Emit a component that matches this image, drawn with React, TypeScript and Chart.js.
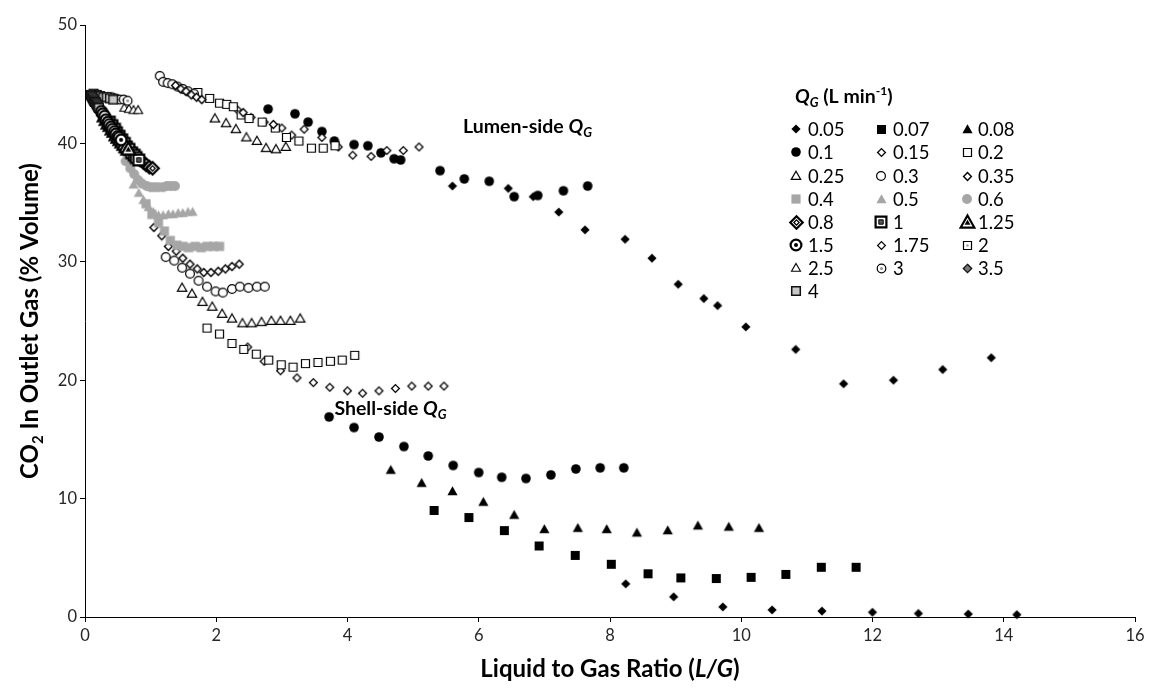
import React, { useEffect, useRef } from 'react';
import { Chart, registerables } from 'chart.js';

Chart.register(...registerables);

// ---------------- DATA ----------------
// Liquid-to-gas ratio (x) and CO2 in outlet gas, % volume (y), per gas flow Q_G (L/min).
// Each series holds lumen-side points first, then shell-side points.
const Q005_X = [5.6, 6.45, 6.83, 7.22, 7.62, 8.23, 8.64, 9.04, 9.43, 9.64, 10.07, 10.83, 11.56, 12.32, 13.07, 13.81, 8.24, 8.97, 9.72, 10.47, 11.23, 12.0, 12.7, 13.46, 14.2];
const Q005_Y = [36.4, 36.2, 35.5, 34.2, 32.7, 31.9, 30.3, 28.1, 26.9, 26.3, 24.5, 22.6, 19.7, 20.0, 20.9, 21.9, 2.8, 1.7, 0.85, 0.6, 0.5, 0.4, 0.3, 0.25, 0.2];

const Q007_X = [5.32, 5.85, 6.39, 6.92, 7.47, 8.02, 8.58, 9.08, 9.62, 10.15, 10.68, 11.22, 11.75];
const Q007_Y = [9.0, 8.4, 7.3, 6.0, 5.2, 4.45, 3.65, 3.3, 3.25, 3.35, 3.6, 4.2, 4.2];

const Q008_X = [4.66, 5.13, 5.6, 6.07, 6.54, 7.0, 7.51, 7.95, 8.41, 8.88, 9.34, 9.81, 10.27];
const Q008_Y = [12.4, 11.3, 10.6, 9.7, 8.6, 7.4, 7.5, 7.4, 7.1, 7.3, 7.7, 7.6, 7.5];

const Q01_X = [2.79, 3.2, 3.4, 3.61, 3.8, 4.1, 4.31, 4.51, 4.71, 4.81, 5.41, 5.78, 6.16, 6.54, 6.9, 7.29, 7.66,
  3.72, 4.1, 4.48, 4.86, 5.23, 5.61, 6.0, 6.35, 6.72, 7.1, 7.48, 7.85, 8.21];
const Q01_Y = [42.9, 42.5, 41.8, 41.0, 40.2, 39.9, 39.8, 39.2, 38.7, 38.6, 37.7, 37.0, 36.8, 35.5, 35.6, 36.0, 36.4,
  16.9, 16.0, 15.2, 14.4, 13.6, 12.8, 12.2, 11.8, 11.7, 12.0, 12.5, 12.6, 12.6];

const Q015_X = [2.33, 2.53, 2.73, 3.0, 3.15, 3.34, 3.61, 3.86, 4.08, 4.36, 4.6, 4.85, 5.09,
  2.48, 2.73, 2.98, 3.23, 3.48, 3.73, 4.0, 4.23, 4.48, 4.73, 4.98, 5.23, 5.47];
const Q015_Y = [42.8, 42.2, 41.8, 41.3, 40.7, 41.2, 40.5, 39.7, 39.0, 38.9, 39.4, 39.4, 39.7,
  22.8, 21.6, 20.8, 20.2, 19.8, 19.4, 19.1, 18.9, 19.1, 19.3, 19.5, 19.5, 19.5];

const Q02_X = [1.72, 1.9, 2.05, 2.16, 2.26, 2.38, 2.5, 2.7, 2.9, 3.07, 3.26, 3.45, 3.63, 3.81,
  1.86, 2.05, 2.24, 2.42, 2.61, 2.8, 2.99, 3.17, 3.36, 3.55, 3.74, 3.92, 4.11];
const Q02_Y = [44.3, 43.8, 43.4, 43.3, 43.1, 42.4, 42.1, 41.8, 41.3, 40.5, 40.2, 39.6, 39.6, 39.8,
  24.4, 23.9, 23.1, 22.6, 22.2, 21.7, 21.3, 21.1, 21.4, 21.5, 21.6, 21.7, 22.1];

const Q025_X = [1.98, 2.15, 2.3, 2.46, 2.62, 2.76, 2.91, 3.06,
  1.48, 1.63, 1.79, 1.94, 2.09, 2.24, 2.4, 2.54, 2.69, 2.84, 2.98, 3.13, 3.28];
const Q025_Y = [42.1, 41.7, 41.2, 40.5, 40.2, 39.6, 39.5, 39.7,
  27.8, 27.3, 26.6, 26.2, 25.6, 25.2, 24.8, 24.8, 24.9, 25.0, 25.0, 25.0, 25.2];

const Q03_X = [1.14, 1.19, 1.26, 1.33, 1.41, 1.49, 1.57, 1.66,
  1.23, 1.36, 1.48, 1.6, 1.73, 1.86, 1.99, 2.1, 2.24, 2.36, 2.49, 2.62, 2.74];
const Q03_Y = [45.7, 45.2, 45.1, 45.0, 44.8, 44.6, 44.4, 44.2,
  30.4, 30.1, 29.5, 29.0, 28.4, 27.9, 27.5, 27.4, 27.7, 27.9, 27.8, 27.9, 27.9];

const Q035_X = [1.38, 1.46, 1.54, 1.62, 1.7, 1.78, 2.41, 2.87,
  1.05, 1.17, 1.27, 1.39, 1.49, 1.6, 1.71, 1.81, 1.92, 2.03, 2.14, 2.24, 2.35];
const Q035_Y = [44.9, 44.6, 44.4, 44.1, 43.9, 43.7, 42.6, 41.6,
  32.9, 32.2, 31.3, 30.9, 30.3, 29.8, 29.4, 29.1, 29.1, 29.2, 29.4, 29.6, 29.8];

const Q04_X = [0.93, 1.02, 1.12, 1.21, 1.3, 1.4, 1.49, 1.58, 1.68, 1.77, 1.86, 1.96, 2.05];
const Q04_Y = [34.9, 34.0, 33.3, 32.6, 31.8, 31.4, 31.3, 31.2, 31.3, 31.2, 31.3, 31.3, 31.3];

const Q05_X = [0.74, 0.82, 0.89, 0.97, 1.04, 1.12, 1.19, 1.27, 1.34, 1.42, 1.49, 1.57, 1.64];
const Q05_Y = [36.5, 35.8, 35.2, 34.6, 34.2, 33.9, 33.9, 34.0, 34.0, 34.1, 34.1, 34.2, 34.2];

const Q06_X = [0.62, 0.69, 0.75, 0.81, 0.87, 0.94, 1.0, 1.06, 1.12, 1.19, 1.25, 1.31, 1.37];
const Q06_Y = [38.5, 37.9, 37.4, 36.9, 36.6, 36.4, 36.3, 36.3, 36.3, 36.3, 36.4, 36.4, 36.4];

const Q08_X = [0.47, 0.51, 0.56, 0.61, 0.65, 0.70, 0.75, 0.79, 0.84, 0.89, 0.93, 0.98, 1.03];
const Q08_Y = [41.0, 40.7, 40.4, 40.0, 39.7, 39.4, 39.1, 38.9, 38.6, 38.4, 38.2, 38.0, 37.9];

const Q1_X = [0.37, 0.41, 0.45, 0.48, 0.52, 0.56, 0.60, 0.63, 0.67, 0.71, 0.75, 0.78, 0.82];
const Q1_Y = [41.8, 41.5, 41.2, 40.9, 40.6, 40.3, 40.0, 39.7, 39.5, 39.2, 39.0, 38.8, 38.6];

const Q125_X = [0.30, 0.33, 0.36, 0.39, 0.42, 0.45, 0.48, 0.51, 0.54, 0.57, 0.60, 0.63, 0.66];
const Q125_Y = [42.3, 42.0, 41.7, 41.5, 41.2, 41.0, 40.7, 40.5, 40.3, 40.1, 39.9, 39.7, 39.5];

const Q15_X = [0.25, 0.27, 0.30, 0.32, 0.35, 0.37, 0.40, 0.42, 0.45, 0.47, 0.50, 0.52, 0.55];
const Q15_Y = [42.7, 42.5, 42.3, 42.0, 41.8, 41.6, 41.4, 41.2, 41.0, 40.8, 40.6, 40.5, 40.3];

const Q175_X = [0.21, 0.23, 0.26, 0.28, 0.30, 0.32, 0.34, 0.36, 0.38, 0.41, 0.43, 0.45, 0.47];
const Q175_Y = [43.0, 42.8, 42.6, 42.4, 42.2, 42.0, 41.8, 41.6, 41.5, 41.3, 41.1, 41.0, 40.8];

const Q2_X = [0.19, 0.21, 0.22, 0.24, 0.26, 0.28, 0.30, 0.32, 0.34, 0.36, 0.37, 0.39, 0.41];
const Q2_Y = [43.3, 43.1, 42.9, 42.7, 42.6, 42.4, 42.2, 42.1, 41.9, 41.8, 41.6, 41.5, 41.3];

const Q25_X = [0.6, 0.67, 0.74, 0.81,
  0.15, 0.16, 0.18, 0.19, 0.21, 0.22, 0.24, 0.25, 0.27, 0.28, 0.30, 0.31, 0.33];
const Q25_Y = [43.0, 42.9, 42.8, 42.8,
  43.6, 43.5, 43.3, 43.2, 43.0, 42.9, 42.8, 42.6, 42.5, 42.4, 42.2, 42.1, 42.0];

const Q3_X = [0.35, 0.41, 0.47, 0.53, 0.59, 0.65,
  0.12, 0.14, 0.15, 0.16, 0.17, 0.19, 0.20, 0.21, 0.22, 0.24, 0.25, 0.26, 0.27];
const Q3_Y = [43.9, 43.9, 43.8, 43.7, 43.7, 43.6,
  43.8, 43.7, 43.6, 43.5, 43.4, 43.3, 43.2, 43.0, 42.9, 42.8, 42.7, 42.6, 42.5];

const Q35_X = [0.11, 0.12, 0.13, 0.14, 0.15, 0.16, 0.17, 0.18, 0.19, 0.20, 0.21, 0.22, 0.23];
const Q35_Y = [44.0, 43.9, 43.8, 43.7, 43.6, 43.5, 43.4, 43.3, 43.2, 43.1, 43.0, 42.9, 42.8];

const Q4_X = [0.13, 0.18, 0.23, 0.28, 0.33, 0.38, 0.43,
  0.09, 0.10, 0.11, 0.12, 0.13, 0.14, 0.15, 0.16, 0.17, 0.18, 0.19, 0.20, 0.21];
const Q4_Y = [44.2, 44.1, 44.0, 43.9, 43.9, 43.8, 43.7,
  44.1, 44.0, 43.9, 43.8, 43.7, 43.6, 43.5, 43.5, 43.4, 43.3, 43.2, 43.1, 43.0];

const SERIES_LABELS = ['0.05', '0.07', '0.08', '0.1', '0.15', '0.2', '0.25', '0.3', '0.35', '0.4', '0.5', '0.6',
  '0.8', '1', '1.25', '1.5', '1.75', '2', '2.5', '3', '3.5', '4'];
const SERIES_X = [Q005_X, Q007_X, Q008_X, Q01_X, Q015_X, Q02_X, Q025_X, Q03_X, Q035_X, Q04_X, Q05_X, Q06_X,
  Q08_X, Q1_X, Q125_X, Q15_X, Q175_X, Q2_X, Q25_X, Q3_X, Q35_X, Q4_X];
const SERIES_Y = [Q005_Y, Q007_Y, Q008_Y, Q01_Y, Q015_Y, Q02_Y, Q025_Y, Q03_Y, Q035_Y, Q04_Y, Q05_Y, Q06_Y,
  Q08_Y, Q1_Y, Q125_Y, Q15_Y, Q175_Y, Q2_Y, Q25_Y, Q3_Y, Q35_Y, Q4_Y];
// drawing rank (higher = drawn later, on top)
const DRAW_RANK = [1, 2, 3, 4, 5, 6, 7, 8, 9, 10, 11, 12, 20, 21, 22, 23, 13, 14, 15, 16, 17, 18];

const X_MIN = 0, X_MAX = 16, X_STEP = 2;
const Y_MIN = 0, Y_MAX = 50, Y_STEP = 10;

// ---------------- STYLES ----------------
const GREY = '#a6a6a6';
type Shape = { shape: string; r: number; fill?: string; stroke?: string; lw?: number };
type Spec = Shape & { inner?: Shape };
const MARKERS: Record<string, Spec> = {
  '0.05': { shape: 'diamond', r: 4.6, fill: '#000' },
  '0.07': { shape: 'square', r: 4.5, fill: '#000' },
  '0.08': { shape: 'triangle', r: 5.2, fill: '#000' },
  '0.1': { shape: 'circle', r: 4.8, fill: '#000' },
  '0.15': { shape: 'diamond', r: 3.9, fill: '#fff', stroke: '#000', lw: 1.3 },
  '0.2': { shape: 'square', r: 4, fill: '#fff', stroke: '#000', lw: 1.2 },
  '0.25': { shape: 'triangle', r: 4.8, fill: '#fff', stroke: '#000', lw: 1.2 },
  '0.3': { shape: 'circle', r: 4.4, fill: '#fff', stroke: '#000', lw: 1.2 },
  '0.35': { shape: 'diamond', r: 3.9, fill: '#fff', stroke: '#000', lw: 1.4 },
  '0.4': { shape: 'square', r: 4.6, fill: GREY },
  '0.5': { shape: 'triangle', r: 5.2, fill: GREY },
  '0.6': { shape: 'circle', r: 5, fill: GREY },
  '0.8': { shape: 'diamond', r: 6.2, fill: '#fff', stroke: '#000', lw: 2.2, inner: { shape: 'diamond', r: 2.6, fill: '#fff', stroke: '#000', lw: 1.3 } },
  '1': { shape: 'square', r: 5.4, fill: '#fff', stroke: '#000', lw: 2.2, inner: { shape: 'square', r: 2.2, fill: '#595959', stroke: '#000', lw: 1 } },
  '1.25': { shape: 'triangle', r: 7, fill: '#fff', stroke: '#000', lw: 2.2, inner: { shape: 'triangle', r: 3, fill: '#000' } },
  '1.5': { shape: 'circle', r: 5.4, fill: '#fff', stroke: '#000', lw: 2.2, inner: { shape: 'circle', r: 2, fill: '#000' } },
  '1.75': { shape: 'diamond', r: 3.9, fill: '#fff', stroke: '#000', lw: 1.2 },
  '2': { shape: 'square', r: 4, fill: '#fff', stroke: '#000', lw: 1.2, inner: { shape: 'circle', r: 1.2, fill: '#9a9a9a' } },
  '2.5': { shape: 'triangle', r: 4.6, fill: '#fff', stroke: '#000', lw: 1.1 },
  '3': { shape: 'circle', r: 4.3, fill: '#fff', stroke: '#000', lw: 1.2, inner: { shape: 'circle', r: 1.6, fill: '#9a9a9a' } },
  '3.5': { shape: 'diamond', r: 4.2, fill: '#7a7a7a', stroke: '#111', lw: 1.3 },
  '4': { shape: 'square', r: 4.3, fill: '#c8c8c8', stroke: '#111', lw: 1.5 },
};

const FONT = 'Lato, "Open Sans", sans-serif';

function pathShape(g: CanvasRenderingContext2D, shape: string, cx: number, cy: number, r: number) {
  if (shape === 'diamond') {
    g.moveTo(cx, cy - r); g.lineTo(cx + r, cy); g.lineTo(cx, cy + r); g.lineTo(cx - r, cy); g.closePath();
  } else if (shape === 'square') {
    g.rect(cx - r, cy - r, 2 * r, 2 * r);
  } else if (shape === 'triangle') {
    g.moveTo(cx, cy - r); g.lineTo(cx + r * 0.98, cy + r * 0.72); g.lineTo(cx - r * 0.98, cy + r * 0.72); g.closePath();
  } else {
    g.arc(cx, cy, r, 0, Math.PI * 2);
  }
}

function paintShape(g: CanvasRenderingContext2D, s: Shape, cx: number, cy: number) {
  g.beginPath();
  pathShape(g, s.shape, cx, cy, s.r);
  if (s.fill) { g.fillStyle = s.fill; g.fill(); }
  if (s.stroke) { g.strokeStyle = s.stroke; g.lineWidth = s.lw || 1; g.lineJoin = 'miter'; g.stroke(); }
}

function makeMarker(spec: Spec): HTMLCanvasElement {
  const size = Math.ceil(2 * spec.r + 2 * (spec.lw || 0) + 4);
  const c = document.createElement('canvas');
  c.width = size; c.height = size;
  const g = c.getContext('2d')!;
  const cx = size / 2, cy = size / 2;
  paintShape(g, spec, cx, cy);
  if (spec.inner) paintShape(g, spec.inner, cx, cy);
  return c;
}

type Run = { text: string; font: string; dy?: number };
function drawRuns(ctx: CanvasRenderingContext2D, runs: Run[], x: number, y: number, align: 'left' | 'center') {
  let total = 0;
  for (const r of runs) { ctx.font = r.font; total += ctx.measureText(r.text).width; }
  let cx = align === 'center' ? x - total / 2 : x;
  ctx.textAlign = 'left';
  ctx.textBaseline = 'alphabetic';
  for (const r of runs) {
    ctx.font = r.font;
    ctx.fillText(r.text, cx, y + (r.dy || 0));
    cx += ctx.measureText(r.text).width;
  }
}

export default function App() {
  const ref = useRef<HTMLCanvasElement | null>(null);

  useEffect(() => {
    document.body.style.margin = '0';
    const canvas = ref.current!;
    const markerImgs: Record<string, HTMLCanvasElement> = {};
    SERIES_LABELS.forEach((l) => { markerImgs[l] = makeMarker(MARKERS[l]); });

    const datasets = SERIES_LABELS.map((label, i) => ({
      label,
      data: SERIES_X[i].map((x, j) => ({ x, y: SERIES_Y[i][j] })),
      pointStyle: markerImgs[label],
      pointRadius: 5,
      pointHoverRadius: 5,
      showLine: false,
      clip: false as any,
      order: 100 - DRAW_RANK[i],
    }));

    const TB = `bold 24px ${FONT}`;
    const TBI = `italic bold 24px ${FONT}`;
    const A = `bold 19.5px ${FONT}`;
    const AI = `italic bold 19.5px ${FONT}`;
    const ASUB = `italic bold 13px ${FONT}`;

    const overlay = {
      id: 'overlay',
      afterDraw(chart: any) {
        const ctx: CanvasRenderingContext2D = chart.ctx;
        const area = chart.chartArea;
        const xs = chart.scales.x, ys = chart.scales.y;
        ctx.save();
        ctx.fillStyle = '#000';
        // x-axis title
        drawRuns(ctx, [
          { text: 'Liquid to Gas Ratio (', font: TB },
          { text: 'L/G', font: TBI },
          { text: ')', font: TB },
        ], (area.left + area.right) / 2, 677, 'center');
        // y-axis title
        ctx.save();
        ctx.translate(38, (area.top + area.bottom) / 2);
        ctx.rotate(-Math.PI / 2);
        drawRuns(ctx, [
          { text: 'CO', font: TB },
          { text: '2', font: `bold 15px ${FONT}`, dy: 5 },
          { text: ' In Outlet Gas (% Volume)', font: TB },
        ], 0, 0, 'center');
        ctx.restore();
        // annotations
        drawRuns(ctx, [
          { text: 'Lumen-side ', font: A },
          { text: 'Q', font: AI },
          { text: 'G', font: ASUB, dy: 4 },
        ], xs.getPixelForValue(5.76), ys.getPixelForValue(40.9), 'left');
        drawRuns(ctx, [
          { text: 'Shell-side ', font: A },
          { text: 'Q', font: AI },
          { text: 'G', font: ASUB, dy: 4 },
        ], xs.getPixelForValue(3.8), ys.getPixelForValue(17.05), 'left');
        // legend title
        drawRuns(ctx, [
          { text: 'Q', font: AI },
          { text: 'G', font: ASUB, dy: 4 },
          { text: ' (L min', font: A },
          { text: '-1', font: `bold 12px ${FONT}`, dy: -8 },
          { text: ')', font: A },
        ], 795, 103, 'left');
        // legend entries
        const colMarker = [796, 881, 967];
        const colText = [808, 893, 978];
        const rowY = [129, 152, 176, 199, 222, 245, 268, 291];
        ctx.font = `18.5px ${FONT}`;
        ctx.textBaseline = 'middle';
        ctx.textAlign = 'left';
        SERIES_LABELS.forEach((label, i) => {
          const col = i % 3, row = Math.floor(i / 3);
          const img = markerImgs[label];
          ctx.drawImage(img, Math.round(colMarker[col] - img.width / 2), Math.round(rowY[row] - img.height / 2));
          ctx.fillStyle = '#000';
          ctx.fillText(label, colText[col], rowY[row] + 1);
        });
        ctx.restore();
      },
    };

    const tickFont = { family: FONT, size: 16.5 };
    const chart = new Chart(canvas, {
      type: 'scatter',
      data: { datasets: datasets as any },
      options: {
        animation: false,
        responsive: false,
        events: [],
        layout: { padding: { left: 0, right: 18, top: 25, bottom: 0 } },
        plugins: { legend: { display: false }, tooltip: { enabled: false } },
        scales: {
          x: {
            type: 'linear', min: X_MIN, max: X_MAX,
            ticks: { stepSize: X_STEP, font: tickFont, color: '#262626', padding: 4, maxRotation: 0 },
            grid: { drawOnChartArea: false, color: '#000', tickLength: 5, tickWidth: 1 },
            border: { color: '#000', width: 1 },
            afterFit: (s: any) => { s.height = 73; },
          },
          y: {
            type: 'linear', min: Y_MIN, max: Y_MAX,
            ticks: { stepSize: Y_STEP, font: tickFont, color: '#262626', padding: 3 },
            grid: { drawOnChartArea: false, color: '#000', tickLength: 5, tickWidth: 1 },
            border: { color: '#000', width: 1 },
            afterFit: (s: any) => { s.width = 85; },
          },
        },
      },
      plugins: [overlay],
    });
    return () => { chart.destroy(); };
  }, []);

  return (
    <div style={{ position: 'absolute', left: 0, top: 0, width: 1153, height: 690, background: '#fff' }}>
      <canvas ref={ref} width={1153} height={690} style={{ display: 'block' }} />
    </div>
  );
}
